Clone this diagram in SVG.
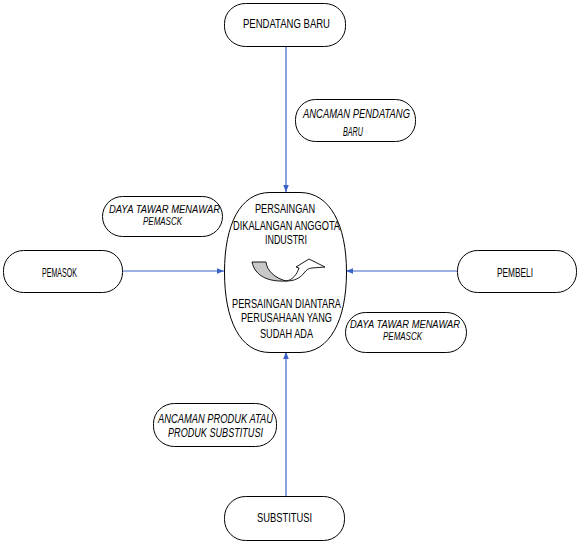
<svg xmlns="http://www.w3.org/2000/svg" width="577" height="545" viewBox="0 0 577 545">
<style>
.box{fill:#fff;stroke:#000;stroke-width:1}
.t{font-family:"Liberation Sans",Arial,sans-serif;font-size:13px;fill:#000}
.s{font-size:11px}
.i{font-style:italic}
.c{stroke:#3a62c8;stroke-width:1.2;fill:none;marker-end:url(#ah)}
</style>
<defs>
<marker id="ah" viewBox="0 0 10 10" refX="10" refY="5" markerWidth="7" markerHeight="7" markerUnits="userSpaceOnUse" orient="auto">
<path d="M0,1 L10,5 L0,9 Z" fill="#3a62c8"/>
</marker>
</defs>
<rect width="577" height="545" fill="#fff"/>
<g id="connectors">
<line class="c" x1="286" y1="46" x2="286" y2="192"/>
<line class="c" x1="123" y1="271" x2="224" y2="271"/>
<line class="c" x1="457" y1="271" x2="346" y2="271"/>
<line class="c" x1="286" y1="496" x2="286" y2="352"/>
</g>
<g id="pendatang-baru">
<rect class="box" x="224.5" y="3.5" width="121" height="43" rx="21" ry="20"/>
<text class="t" x="243" y="28" textLength="87" lengthAdjust="spacingAndGlyphs">PENDATANG BARU</text>
</g>
<g id="ancaman-pendatang">
<rect class="box" x="295.5" y="99.5" width="120" height="42" rx="20" ry="20"/>
<text class="t i" x="303" y="118" textLength="107" lengthAdjust="spacingAndGlyphs">ANCAMAN PENDATANG</text>
<text class="t i" x="343" y="136" textLength="20" lengthAdjust="spacingAndGlyphs">BARU</text>
</g>
<g id="daya-tawar-pemasok">
<rect class="box" x="102.5" y="196.5" width="120" height="40" rx="20" ry="20"/>
<text class="t s i" x="109" y="213" textLength="111" lengthAdjust="spacingAndGlyphs">DAYA TAWAR MENAWAR</text>
<text class="t s i" x="143" y="225" textLength="39" lengthAdjust="spacingAndGlyphs">PEMASCK</text>
</g>
<g id="persaingan">
<path class="box" d="M270,192.5 L300,192.5 C330,192.5 346.5,225 346.5,272 C346.5,320 330,352.5 300,352.5 L270,352.5 C240,352.5 224.5,320 224.5,272 C224.5,225 240,192.5 270,192.5 Z"/>
<text class="t" x="255" y="213" textLength="60" lengthAdjust="spacingAndGlyphs">PERSAINGAN</text>
<text class="t" x="233" y="230" textLength="107" lengthAdjust="spacingAndGlyphs">DIKALANGAN ANGGOTA</text>
<text class="t" x="265" y="244" textLength="42" lengthAdjust="spacingAndGlyphs">INDUSTRI</text>
<path d="M252,262 L266,262 C267,271 275,278 286,281 C268,282 255,276 252,262 Z" fill="#c8c8c8" stroke="#000" stroke-width="0.9"/>
<path d="M286,281 C293,280 297,274 299,268 L296,267 L309,259 L325,267 L312,268 C309,268 306,270 304,273 C300,278 295,281 286,281 Z" fill="#fff" stroke="#000" stroke-width="0.9"/>
<text class="t" x="232" y="308" textLength="109" lengthAdjust="spacingAndGlyphs">PERSAINGAN DIANTARA</text>
<text class="t" x="241" y="322" textLength="91" lengthAdjust="spacingAndGlyphs">PERUSAHAAN YANG</text>
<text class="t" x="260" y="338" textLength="53" lengthAdjust="spacingAndGlyphs">SUDAH ADA</text>
</g>
<g id="pemasok">
<rect class="box" x="3.5" y="250.5" width="119" height="42" rx="20" ry="20"/>
<text class="t" x="42" y="277" textLength="35" lengthAdjust="spacingAndGlyphs">PEMASOK</text>
</g>
<g id="pembeli">
<rect class="box" x="457.5" y="250.5" width="119" height="42" rx="20" ry="20"/>
<text class="t" x="497" y="277" textLength="36" lengthAdjust="spacingAndGlyphs">PEMBELI</text>
</g>
<g id="daya-tawar-pembeli">
<rect class="box" x="345.5" y="312.5" width="121" height="40" rx="20" ry="20"/>
<text class="t s i" x="350" y="328" textLength="110" lengthAdjust="spacingAndGlyphs">DAYA TAWAR MENAWAR</text>
<text class="t s i" x="383" y="340" textLength="39" lengthAdjust="spacingAndGlyphs">PEMASCK</text>
</g>
<g id="ancaman-produk">
<rect class="box" x="153.5" y="403.5" width="123" height="43" rx="21" ry="20"/>
<text class="t i" x="158" y="423" textLength="115" lengthAdjust="spacingAndGlyphs">ANCAMAN PRODUK ATAU</text>
<text class="t i" x="168" y="437" textLength="95" lengthAdjust="spacingAndGlyphs">PRODUK SUBSTITUSI</text>
</g>
<g id="substitusi">
<rect class="box" x="224.5" y="496.5" width="120" height="44" rx="21" ry="21"/>
<text class="t" x="257" y="522" textLength="55" lengthAdjust="spacingAndGlyphs">SUBSTITUSI</text>
</g>
</svg>
